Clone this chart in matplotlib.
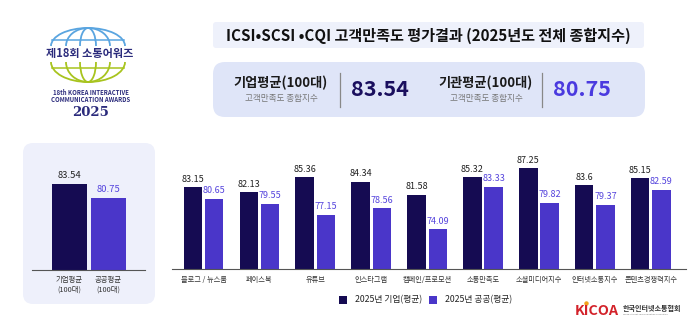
import matplotlib
matplotlib.use("Agg")
import matplotlib.pyplot as plt
from matplotlib.patches import FancyBboxPatch, Arc, Rectangle
import numpy as np

plt.rcParams['font.family'] = ['Noto Sans CJK KR', 'DejaVu Sans']

# Data
categories = ["블로그 / 뉴스룸", "페이스북", "유튜브", "인스타그램", "캠페인/프로모션",
              "소통만족도", "소셜미디어지수", "인터넷소통지수", "콘텐츠경쟁력지수"]
corp_scores = [83.15, 82.13, 85.36, 84.34, 81.58, 85.32, 87.25, 83.6, 85.15]
public_scores = [80.65, 79.55, 77.15, 78.56, 74.09, 83.33, 79.82, 79.37, 82.59]
corp_labels = ["83.15", "82.13", "85.36", "84.34", "81.58", "85.32", "87.25", "83.6", "85.15"]
public_labels = ["80.65", "79.55", "77.15", "78.56", "74.09", "83.33", "79.82", "79.37", "82.59"]

avg_names = ["기업평균\n(100대)", "공공평균\n(100대)"]
avg_scores = [83.54, 80.75]
avg_labels = ["83.54", "80.75"]

legend_names = ["2025년 기업(평균)", "2025년 공공(평균)"]
title_text = "ICSI•SCSI •CQI 고객만족도 평가결과 (2025년도 전체 종합지수)"

DARK = "#150b52"
PURPLE = "#4a36c9"
PURPLE_TXT = "#5544dd"

W, H = 700, 327
fig = plt.figure(figsize=(W / 100, H / 100), dpi=100)
fig.patch.set_facecolor("white")

# overlay axes in pixel coords for boxes / text
bg = fig.add_axes([0, 0, 1, 1])
bg.set_xlim(0, W)
bg.set_ylim(H, 0)
bg.axis("off")

# title box
bg.add_patch(FancyBboxPatch((213, 22), 431, 26, boxstyle="round,pad=0,rounding_size=3",
                            fc="#eef1fb", ec="none"))
bg.text(428, 35.5, title_text, ha="center", va="center", fontsize=10.9,
        fontweight="bold", color="#111111")

# summary box
bg.add_patch(FancyBboxPatch((213, 62), 432, 55, boxstyle="round,pad=0,rounding_size=12",
                            fc="#dfe5f8", ec="none"))
bg.text(281, 83, "기업평균(100대)", ha="center", va="center", fontsize=9.5,
        fontweight="bold", color="#1a1a1a")
bg.text(281, 98.5, "고객만족도 종합지수", ha="center", va="center", fontsize=6.2, color="#777777")
bg.plot([340, 340], [73, 107], color="#888888", lw=0.9)
bg.text(380, 90, "83.54", ha="center", va="center", fontsize=15.5,
        fontweight="bold", color="#1a0f5e")
bg.text(486, 83, "기관평균(100대)", ha="center", va="center", fontsize=9.5,
        fontweight="bold", color="#1a1a1a")
bg.text(486, 98.5, "고객만족도 종합지수", ha="center", va="center", fontsize=6.2, color="#777777")
bg.plot([542, 542], [73, 107], color="#888888", lw=0.9)
bg.text(582, 90, "80.75", ha="center", va="center", fontsize=15.5,
        fontweight="bold", color="#4a3adf")

# award logo
for w in [74, 44, 16]:
    bg.add_patch(Arc((88, 46), w, 36, theta1=180, theta2=360, color="#5aa5e0", lw=1.3))
bg.plot([52, 124], [40, 40], color="#5aa5e0", lw=1.1)
for w in [74, 44, 16]:
    bg.add_patch(Arc((88, 62), w, 40, theta1=0, theta2=180, color="#a8c41e", lw=1.3))
bg.plot([52, 124], [68, 68], color="#a8c41e", lw=1.1)
bg.text(90, 54, "제18회 소통어워즈", ha="center", va="center", fontsize=8,
        fontweight="bold", color="#2b2b7c")
bg.text(91, 92.5, "18th KOREA INTERACTIVE", ha="center", va="center", fontsize=4.3,
        fontweight="bold", color="#2b2b7c")
bg.text(91, 99, "COMMUNICATION AWARDS", ha="center", va="center", fontsize=4.3,
        fontweight="bold", color="#2b2b7c")
bg.text(91, 113, "2025", ha="center", va="center", fontsize=9.5, fontweight="bold",
        family="DejaVu Serif", color="#2b2b7c")

# left panel box
bg.add_patch(FancyBboxPatch((23, 143), 132, 161, boxstyle="round,pad=0,rounding_size=10",
                            fc="#eef0fb", ec="none"))

# legend
bg.add_patch(Rectangle((339, 296), 8, 8, fc=DARK, ec="none"))
bg.text(355, 300, legend_names[0], ha="left", va="center", fontsize=6.3, color="#222222")
bg.add_patch(Rectangle((429, 296), 8, 8, fc=PURPLE, ec="none"))
bg.text(445, 300, legend_names[1], ha="left", va="center", fontsize=6.3, color="#222222")

# KICOA logo
bg.text(575, 311, "KICOA", ha="left", va="center", fontsize=10.3, fontweight="bold",
        style="italic", color="#d3222a")
bg.plot([586], [303], marker="o", ms=2.2, color="#f3a21b")
bg.text(623, 308, "한국인터넷소통협회", ha="left", va="center", fontsize=5.1,
        fontweight="bold", color="#333333")
bg.text(623, 314.5, "Korea Internet Communication Association", ha="left", va="center",
        fontsize=1.6, color="#777777")


def fig_rect(x0, y0, x1, y1):
    return [x0 / W, 1 - y1 / H, (x1 - x0) / W, (y1 - y0) / H]


# left average chart
ax0 = fig.add_axes(fig_rect(32, 160, 145, 270))
ax0.set_facecolor("none")
pos0 = np.arange(len(avg_scores))
ax0.bar(pos0, avg_scores, width=0.91, color=[DARK, PURPLE], bottom=0)
ax0.set_ylim(66.4, 66.4 + 110 / 5.02)
ax0.set_xlim(-0.974, 1.96)
for i, (v, lab) in enumerate(zip(avg_scores, avg_labels)):
    ax0.annotate(lab, (i, v), xytext=(0, 3), textcoords="offset points", ha="center",
                 va="bottom", fontsize=6.8, color="#222222" if i == 0 else PURPLE_TXT)
ax0.set_xticks(pos0)
ax0.set_xticklabels(avg_names, fontsize=5.3, color="#333333", linespacing=1.4)
ax0.tick_params(axis="x", length=0, pad=4)
ax0.set_yticks([])
for s in ["top", "right", "left"]:
    ax0.spines[s].set_visible(False)
ax0.spines["bottom"].set_color("#555555")
ax0.spines["bottom"].set_linewidth(0.8)

# main grouped chart
ax = fig.add_axes(fig_rect(172, 150, 686, 269))
ax.set_facecolor("none")
x = np.arange(len(categories))
off = 0.19
bw = 0.33
ax.bar(x - off, corp_scores, width=bw, color=DARK)
ax.bar(x + off, public_scores, width=bw, color=PURPLE)
ax.set_ylim(65.4, 65.4 + 119 / 4.6)
ax.set_xlim(-0.564, 8.63)
for i in range(len(categories)):
    ax.annotate(corp_labels[i], (x[i] - off, corp_scores[i]), xytext=(0, 2.5),
                textcoords="offset points", ha="center", va="bottom", fontsize=6.5,
                color="#222222")
    ax.annotate(public_labels[i], (x[i] + off, public_scores[i]), xytext=(0, 2.5),
                textcoords="offset points", ha="center", va="bottom", fontsize=6.5,
                color=PURPLE_TXT)
ax.set_xticks(x)
ax.set_xticklabels(categories, fontsize=5.2, color="#333333")
ax.tick_params(axis="x", length=0, pad=5)
ax.set_yticks([])
for s in ["top", "right", "left"]:
    ax.spines[s].set_visible(False)
ax.spines["bottom"].set_color("#555555")
ax.spines["bottom"].set_linewidth(0.8)

fig.savefig("out.png", dpi=100)
